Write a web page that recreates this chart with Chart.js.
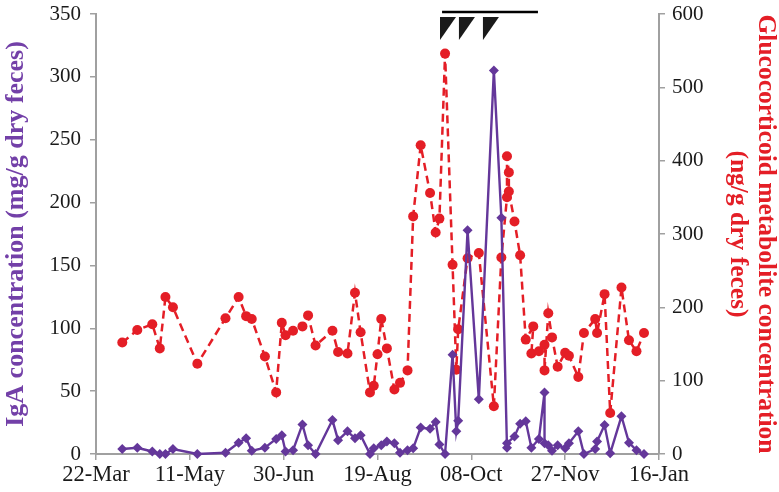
<!DOCTYPE html>
<html>
<head>
<meta charset="utf-8">
<script src="https://cdn.jsdelivr.net/npm/chart.js@4/dist/chart.umd.min.js"></script>
<style>
  html, body { margin: 0; padding: 0; background: #fff; }
  #wrap { width: 779px; height: 492px; }
</style>
</head>
<body>
<div id="wrap"><canvas id="chart" width="779" height="492"></canvas></div>
<script>
// x values are days counted from 22-Mar
const xTickLabels = ['22-Mar', '11-May', '30-Jun', '19-Aug', '08-Oct', '27-Nov', '16-Jan'];

// IgA (mg/g dry feces), left axis
const igaDays = [14, 22, 30, 34, 37, 41, 54, 69, 76, 80, 83, 90, 96, 99, 101, 105, 110, 113, 117,
    126, 129, 134, 138, 141, 146, 148, 152, 155, 159, 162, 166, 169, 173, 178, 181, 183, 186,
    190, 192, 193, 198, 204, 212, 216, 219, 219, 223, 226, 229, 232, 236, 239, 239, 241, 243,
    246, 250, 252, 257, 260, 266, 267, 271, 274, 280, 284, 288, 292];
const igaValues = [4, 5, 2, 0, 0, 4, 0, 1, 9, 12.5, 2.5, 5, 12, 15, 2, 3, 23.5, 7, 0,
    27, 11, 18, 12.5, 15, 0, 4.5, 7, 10, 8.5, 1, 3, 4.5, 21, 20, 25.5, 7.5, 0,
    79, 18, 26.5, 178, 43.5, 305, 188, 5, 8.5, 14, 24, 26, 5, 12, 49, 8.5, 7, 2.5,
    7, 4.5, 8.5, 18, 0, 4, 10, 23, 0.5, 30, 9, 3, 0];

// Glucocorticoid metabolites (ng/g dry feces), right axis
const gcDays = [14, 22, 30, 34, 37, 41, 54, 69, 76, 80, 83, 90, 96, 99, 101, 105, 110, 113, 117,
    126, 129, 134, 138, 141, 146, 148, 150, 152, 155, 159, 162, 166, 169, 173, 178, 181, 183,
    186, 190, 192, 193, 198, 204, 212, 216, 219, 219, 220, 220, 223, 226, 229, 233, 232, 236,
    239, 239, 241, 243, 246, 250, 252, 257, 260, 266, 267, 271, 274, 280, 284, 288, 292];
const gcValues = [152, 169, 177, 144, 214, 200, 123, 185, 214, 188, 184, 133, 84, 179, 162, 168, 174, 189, 148,
    168, 139, 137, 220, 166, 84, 93, 136, 184, 144, 88, 97, 114, 324, 421, 356, 302, 321,
    546, 258, 115, 170, 267, 274, 65, 268, 350, 406, 384, 358, 317, 271, 156, 174, 137, 140,
    149, 114, 192, 159, 119, 138, 134, 105, 165, 184, 165, 218, 56, 227, 155, 140, 165];

// treatment markers above the plot
const treatmentDays = [183.3, 193.4, 206.2];
const treatmentSpan = [184.4, 235.5];

const purple = '#64379a';
const red = '#e41e26';
const axisGray = '#a0a0a0';
const serif = '"Liberation Serif", "Times New Roman", serif';

const treatmentPlugin = {
    id: 'treatment',
    afterDraw(chart) {
        const ctx = chart.ctx;
        const xs = chart.scales.x;
        const top = chart.chartArea.top;
        ctx.save();
        ctx.strokeStyle = '#000';
        ctx.lineWidth = 2.5;
        ctx.beginPath();
        ctx.moveTo(xs.getPixelForValue(treatmentSpan[0]), top - 2);
        ctx.lineTo(xs.getPixelForValue(treatmentSpan[1]), top - 2);
        ctx.stroke();
        ctx.fillStyle = '#1a1a1a';
        treatmentDays.forEach(d => {
            const x0 = xs.getPixelForValue(d);
            ctx.beginPath();
            ctx.moveTo(x0, top + 3);
            ctx.lineTo(x0 + 16, top + 3);
            ctx.lineTo(x0, top + 26);
            ctx.closePath();
            ctx.fill();
        });
        ctx.restore();
    }
};

// keep the plot box fixed: no extra room for half tick labels
function fixY(width) {
    return (s) => {
        s.width = width;
        s.paddingTop = 0;
        s.paddingBottom = 0;
    };
}

new Chart(document.getElementById('chart'), {
    type: 'line',
    data: {
        datasets: [{
            label: 'IgA',
            data: igaDays.map((d, i) => ({ x: d, y: igaValues[i] })),
            yAxisID: 'yL',
            borderColor: purple,
            backgroundColor: purple,
            borderWidth: 2.4,
            pointStyle: 'rectRot',
            pointRadius: 5,
            pointBorderWidth: 0,
            tension: 0,
            clip: false
        }, {
            label: 'Glucocorticoid',
            data: gcDays.map((d, i) => ({ x: d, y: gcValues[i] })),
            yAxisID: 'yR',
            borderColor: red,
            backgroundColor: red,
            borderWidth: 2.5,
            borderDash: [8, 5],
            pointStyle: 'circle',
            pointRadius: 5,
            pointBorderWidth: 0,
            tension: 0,
            clip: false
        }]
    },
    options: {
        responsive: false,
        animation: false,
        layout: { padding: { top: 14, left: 0, right: 0, bottom: 0 } },
        plugins: {
            legend: { display: false },
            tooltip: { enabled: false }
        },
        scales: {
            x: {
                type: 'linear',
                min: 0,
                max: 300,
                afterFit: (s) => { s.height = 38; s.paddingLeft = 0; s.paddingRight = 0; },
                border: { color: axisGray, width: 2 },
                grid: { drawOnChartArea: false, drawTicks: true, tickLength: 6, color: axisGray, lineWidth: 1.5 },
                ticks: {
                    stepSize: 50,
                    autoSkip: false,
                    maxRotation: 0,
                    padding: 2,
                    color: '#1a1a1a',
                    font: { family: serif, size: 22.5 },
                    callback: (v) => xTickLabels[v / 50]
                }
            },
            yL: {
                position: 'left',
                min: 0,
                max: 350,
                afterFit: fixY(96),
                border: { color: axisGray, width: 2 },
                grid: { drawOnChartArea: false, drawTicks: true, tickLength: 6, color: axisGray, lineWidth: 1.5 },
                ticks: {
                    stepSize: 50,
                    padding: 9,
                    color: '#1a1a1a',
                    font: { family: serif, size: 21 }
                },
                title: {
                    display: true,
                    text: 'IgA concentration (mg/g dry feces)',
                    color: '#7340a8',
                    padding: { top: 2, bottom: 0 },
                    font: { family: serif, size: 26, weight: 'bold', lineHeight: 1.1 }
                }
            },
            yR: {
                position: 'right',
                min: 0,
                max: 600,
                afterFit: fixY(120),
                border: { color: axisGray, width: 2 },
                grid: { drawOnChartArea: false, drawTicks: true, tickLength: 6, color: axisGray, lineWidth: 1.5 },
                ticks: {
                    stepSize: 100,
                    padding: 7,
                    color: '#1a1a1a',
                    font: { family: serif, size: 21 }
                },
                title: {
                    display: true,
                    text: ['Glucocorticoid metabolite concentration', '(ng/g dry feces)'],
                    color: red,
                    padding: { top: 0, bottom: 0 },
                    font: { family: serif, size: 25.5, weight: 'bold', lineHeight: 1.08 }
                }
            }
        }
    },
    plugins: [treatmentPlugin]
});
</script>
</body>
</html>
